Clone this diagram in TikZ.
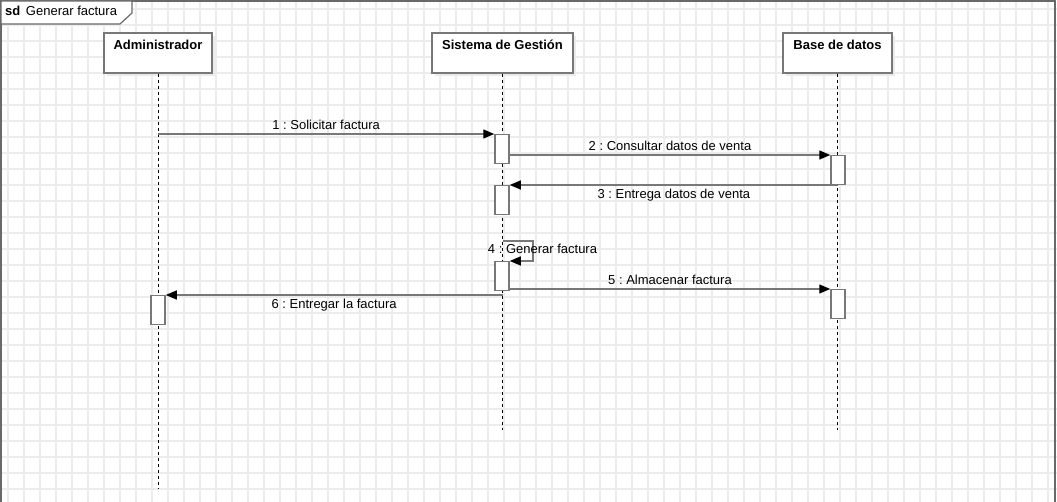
\documentclass[tikz,border=0pt]{standalone}
\usepackage{fontspec}
\setmainfont{Liberation Sans}
\usetikzlibrary{arrows.meta,shadows}
\definecolor{gridgray}{RGB}{236,236,236}
\definecolor{boxgray}{RGB}{120,120,120}
\definecolor{framegray}{RGB}{105,105,105}
\frenchspacing
\begin{document}
\begin{tikzpicture}[x=1pt,y=-1pt,
    font=\fontsize{13}{15}\selectfont,
    head/.style={draw=boxgray, line width=1.5pt, fill=white, minimum height=40pt,
      inner ysep=0pt, text height=17pt, text depth=23pt, font=\fontsize{13}{15}\selectfont\bfseries,
      drop shadow={shadow xshift=3pt, shadow yshift=-3pt, fill=black!8, opacity=1}},
    act/.style={draw=boxgray, line width=1.5pt, fill=white, minimum width=14pt,
      minimum height=29pt, inner sep=0pt, anchor=north},
    lifeline/.style={line width=1pt, dash pattern=on 3pt off 3pt},
    msg/.style={draw=boxgray, line width=1.3pt, -{Triangle[length=11pt,width=9pt,color=black]}}]
  \useasboundingbox (0,0) rectangle (1057,502);
  % grid
  \foreach \gx in {8,24,...,1048} \draw[gridgray, line width=1.15pt] (\gx,0) -- (\gx,502);
  \foreach \gy in {9,25,...,489} \draw[gridgray, line width=1.15pt] (0,\gy) -- (1057,\gy);
  % frame
  \draw[framegray, line width=1.5pt] (1,502) -- (1,1) -- (1055,1) -- (1055,502);
  \draw[framegray, line width=1.2pt, fill=white] (1,1) -- (132,1) -- (132,13) -- (120,24) -- (1,24) -- cycle;
  \node[anchor=base west, inner sep=0pt] (title) at (5,16) {\textbf{sd}\hspace{2pt} Generar factura};
  % lifelines
  \node (admin) at (158,53) [head, minimum width=108pt] {Administrador};
  \node (sistema) at (502.5,53) [head, minimum width=141pt] {Sistema de Gestión};
  \node (base) at (837.5,53) [head, minimum width=109pt] {Base de datos};
  \coordinate (adminend) at (158,488); \coordinate (sistemaend) at (502.5,430);
  \coordinate (baseend) at (837.5,430);
  \draw[lifeline] (admin.south) -- (adminend);
  \draw[lifeline] (sistema.south) -- (sistemaend);
  \draw[lifeline] (base.south) -- (baseend);
  % activations
  \node (s1) at (502,134) [act] {}; \node (s2) at (502,185) [act] {};
  \node (s3) at (502,261) [act] {}; \node (b1) at (838,155) [act] {};
  \node (b2) at (838,289) [act] {}; \node (a1) at (158,295) [act] {};
  % messages
  \draw[msg] (admin |- s1.north west) -- node[above] (l1) {1 : Solicitar factura} (s1.north west);
  \draw[msg] (s1.east |- b1.north west) -- node[above] (l2) {2 : Consultar datos de venta} (b1.north west);
  \draw[msg] (b1.south |- s2.north east) -- node[below] (l3) {3 : Entrega datos de venta} (s2.north east);
  \coordinate (loop4) at (503,241);
  \draw[msg] (loop4) -- ++(30,0) |- (s3.north east);
  \node (l4) at (542.5,249) {4 : Generar factura};
  \draw[msg] (s3.east |- b2.north west) -- node[above] (l5) {5 : Almacenar factura} (b2.north west);
  \draw[msg] (sistema |- a1.north east) -- node[below] (l6) {6 : Entregar la factura} (a1.north east);
\end{tikzpicture}
\end{document}
